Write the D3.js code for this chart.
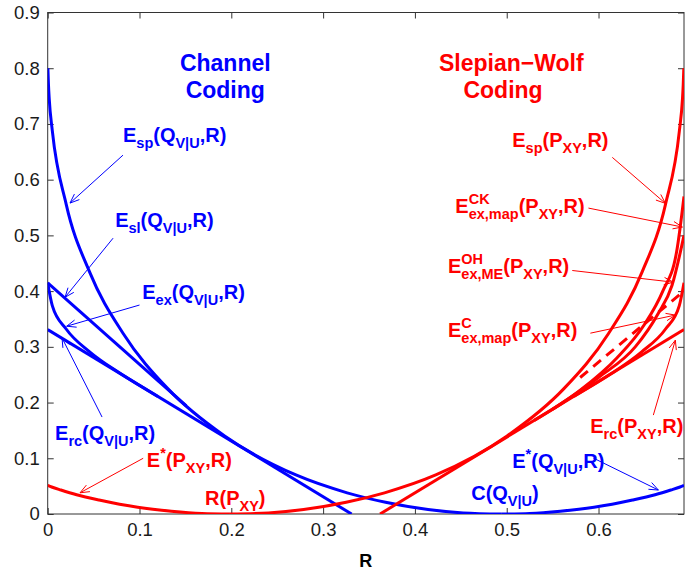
<!DOCTYPE html>
<html>
<head>
<meta charset="utf-8">
<script src="https://cdn.jsdelivr.net/npm/d3@7"></script>
<style>
body { margin: 0; background: #fff; }
text { font-family: "Liberation Sans", Arial, Helvetica, sans-serif; }
</style>
</head>
<body>
<svg id="chart" width="693" height="572"></svg>
<script>
// axis ticks
var xTicks = [0, 0.1, 0.2, 0.3, 0.4, 0.5, 0.6];
var yTicks = [0, 0.1, 0.2, 0.3, 0.4, 0.5, 0.6, 0.7, 0.8, 0.9];

// channel coding curves, [R, exponent]
var chEsp = [[0.0002,0.80],[0.0008,0.772],[0.0017,0.744],[0.005,0.688],[0.0201,0.556],[0.0457,0.434],
             [0.0822,0.324],[0.1308,0.225],[0.1927,0.140],[0.2704,0.070],[0.3262,0.038],[0.368,0.021],
             [0.4143,0.008],[0.4526,0.002],[0.4946,0]];
var chEsl = [[0,0.415],[0.151,0.194]];
var chEex = [[0,0.415],[0.005,0.374],[0.0201,0.332],[0.0457,0.291],[0.0792,0.252],[0.12,0.211]];
var chErc = [[0,0.331],[0.331,0]];
var chEstar = [[0.4946,0],[0.5251,0.001],[0.5584,0.005],[0.5951,0.012],[0.6371,0.025],[0.6616,0.0345],
               [0.6787,0.043],[0.6888,0.0485],[0.6931,0.0513]];

// Slepian-Wolf curves, [R, exponent]
var swEsp = [[0.1985,0],[0.2405,0.002],[0.2788,0.008],[0.3251,0.021],[0.3669,0.038],[0.4227,0.070],
             [0.5004,0.140],[0.5623,0.225],[0.6109,0.324],[0.6474,0.434],[0.673,0.556],[0.6881,0.688],
             [0.6914,0.744],[0.6923,0.772],[0.6929,0.80]];
var swErc = [[0.362,0],[0.6931,0.331]];
var swEstar = [[0,0.0513],[0.0043,0.0485],[0.0144,0.043],[0.0315,0.0345],[0.056,0.025],[0.098,0.012],
               [0.1347,0.005],[0.168,0.001],[0.1985,0]];
var swExCK = [[0.53,0.168],[0.58,0.222],[0.62,0.28],[0.65,0.34],[0.67,0.40],[0.685,0.47],[0.6931,0.57]];
var swExOH = [[0.55,0.188],[0.60,0.245],[0.64,0.30],[0.665,0.36],[0.68,0.41],[0.6931,0.50]];
var swExC  = [[0.573,0.211],[0.614,0.252],[0.647,0.291],[0.673,0.332],[0.688,0.374],[0.6931,0.415]];
var swExDash = [[0.58,0.245],[0.62,0.30],[0.66,0.355],[0.6931,0.40]];

var svg = d3.select("#chart");
var x = d3.scaleLinear().domain([0, 0.6931]).range([47.7, 684]);
var y = d3.scaleLinear().domain([0, 0.9]).range([514, 12.5]);

var blue = "#0000ff", red = "#ff0000";

svg.append("defs").append("clipPath").attr("id", "plotclip")
   .append("rect").attr("x", x(0)).attr("y", y(0.9))
   .attr("width", x(0.6931) - x(0)).attr("height", y(0) - y(0.9));

// axes (ticks inside like matlab)
var gx = svg.append("g").attr("transform", "translate(0," + y(0) + ")")
   .call(d3.axisBottom(x).tickValues(xTicks).tickSize(-6).tickPadding(9).tickFormat(d3.format("")));
var gxt = svg.append("g").attr("transform", "translate(0," + y(0.9) + ")")
   .call(d3.axisTop(x).tickValues(xTicks).tickSize(-6).tickFormat(""));
var gy = svg.append("g").attr("transform", "translate(" + x(0) + ",0)")
   .call(d3.axisLeft(y).tickValues(yTicks).tickSize(-6).tickPadding(8).tickFormat(d3.format("")));
var gyr = svg.append("g").attr("transform", "translate(" + x(0.6931) + ",0)")
   .call(d3.axisRight(y).tickValues(yTicks).tickSize(-6).tickFormat(""));
[gx, gxt, gy, gyr].forEach(function(g){
    g.select(".domain").remove();
    g.selectAll("line").attr("stroke", "#333");
    g.selectAll("text").attr("font-size", 18.5).attr("fill", "#1a1a1a")
     .style("font-family", "'Liberation Sans', Arial, sans-serif");
});
svg.append("rect").attr("x", x(0)).attr("y", y(0.9))
   .attr("width", x(0.6931) - x(0)).attr("height", y(0) - y(0.9))
   .attr("fill", "none").attr("stroke", "#333").attr("stroke-width", 1);

svg.append("text").attr("x", (x(0) + x(0.6931)) / 2).attr("y", 567)
   .attr("text-anchor", "middle").attr("font-size", 18).attr("font-weight", "bold").text("R");

// curves
var line = d3.line().x(function(d){ return x(d[0]); }).y(function(d){ return y(d[1]); })
             .curve(d3.curveMonotoneX);
var plot = svg.append("g").attr("clip-path", "url(#plotclip)");
function curve(data, color, dash) {
    plot.append("path").datum(data).attr("d", line)
        .attr("fill", "none").attr("stroke", color).attr("stroke-width", 3)
        .attr("stroke-dasharray", dash ? "10,7" : null);
}
curve(chEsp, blue); curve(chEsl, blue); curve(chEex, blue); curve(chErc, blue); curve(chEstar, blue);
curve(swEsp, red); curve(swErc, red); curve(swEstar, red);
curve(swExCK, red); curve(swExOH, red); curve(swExC, red); curve(swExDash, red, true);

// arrows: [fromR, fromE, toR, toE, color]
var arrows = [
  [0.082,0.644,0.0243,0.558,blue],
  [0.0712,0.495,0.0189,0.389,blue],
  [0.100,0.375,0.0207,0.337,blue],
  [0.0592,0.174,0.0156,0.316,blue],
  [0.104,0.100,0.0352,0.038,red],
  [0.615,0.640,0.6728,0.5575,red],
  [0.589,0.549,0.6913,0.515,red],
  [0.5714,0.437,0.6815,0.416,red],
  [0.5911,0.3245,0.6837,0.357,red],
  [0.6597,0.1775,0.6837,0.312,red],
  [0.5943,0.1004,0.6652,0.043,blue]
];
arrows.forEach(function(a){
    var x1 = x(a[0]), y1 = y(a[1]), x2 = x(a[2]), y2 = y(a[3]);
    var ang = Math.atan2(y2 - y1, x2 - x1), L = 10, w = 0.38;
    var p = "M" + x1 + "," + y1 + "L" + x2 + "," + y2 +
            "M" + (x2 - L*Math.cos(ang - w)) + "," + (y2 - L*Math.sin(ang - w)) + "L" + x2 + "," + y2 +
            "L" + (x2 - L*Math.cos(ang + w)) + "," + (y2 - L*Math.sin(ang + w));
    svg.append("path").attr("d", p).attr("fill", "none").attr("stroke", a[4]).attr("stroke-width", 1);
});

// labels: [R, E, color, parts]
var labels = [
  [0.082,0.667,blue,[["E"],["sp","sub"],["(Q"],["V|U","sub"],[",R)"]]],
  [0.0735,0.515,blue,[["E"],["sl","sub"],["(Q"],["V|U","sub"],[",R)"]]],
  [0.103,0.385,blue,[["E"],["ex","sub"],["(Q"],["V|U","sub"],[",R)"]]],
  [0.008,0.133,blue,[["E"],["rc","sub"],["(Q"],["V|U","sub"],[",R)"]]],
  [0.108,0.084,red,[["E"],["*","sup"],["(P"],["XY","sub"],[",R)"]]],
  [0.1714,0.017,red,[["R(P"],["XY","sub"],[")"]]],
  [0.4613,0.025,blue,[["C(Q"],["V|U","sub"],[")"]]],
  [0.506,0.0825,blue,[["E"],["*","sup"],["(Q"],["V|U","sub"],[",R)"]]],
  [0.591,0.145,red,[["E"],["rc","sub"],["(P"],["XY","sub"],[",R)"]]],
  [0.506,0.658,red,[["E"],["sp","sub"],["(P"],["XY","sub"],[",R)"]]],
  [0.444,0.540,red,[["E"],["CK","sup"],["ex,map","sub"],["(P"],["XY","sub"],[",R)"]]],
  [0.436,0.432,red,[["E"],["OH","sup"],["ex,ME","sub"],["(P"],["XY","sub"],[",R)"]]],
  [0.436,0.317,red,[["E"],["C","sup"],["ex,map","sub"],["(P"],["XY","sub"],[",R)"]]]
];
labels.forEach(function(l){
    var cx = x(l[0]), by = y(l[1]), supStart = null, supW = 0, prev = null;
    l[3].forEach(function(part){
        var kind = part[1] || "";
        var t = svg.append("text").attr("fill", l[2]).attr("font-weight", "bold")
                   .attr("font-size", kind ? 14.5 : 20).text(part[0]);
        var start = cx;
        if (kind === "sub" && prev === "sup") start = supStart;
        t.attr("x", start).attr("y", by + (kind === "sub" ? 6 : kind === "sup" ? -9 : 0));
        var w = t.node().getComputedTextLength();
        if (kind === "sup") { supStart = start; supW = w; cx = start + w; }
        else if (kind === "sub" && prev === "sup") { cx = start + Math.max(w, supW); }
        else cx = start + w;
        prev = kind;
    });
});

// titles
[["Channel",0.1934,63,blue],["Coding",0.1934,90,blue],
 ["Slepian\u2212Wolf",0.505,63,red],["Coding",0.496,90,red]].forEach(function(t){
    svg.append("text").attr("x", x(t[1])).attr("y", t[2]).attr("dy", "0.35em")
       .attr("text-anchor", "middle").attr("font-size", 23).attr("font-weight", "bold")
       .attr("fill", t[3]).text(t[0]);
});
</script>
</body>
</html>
